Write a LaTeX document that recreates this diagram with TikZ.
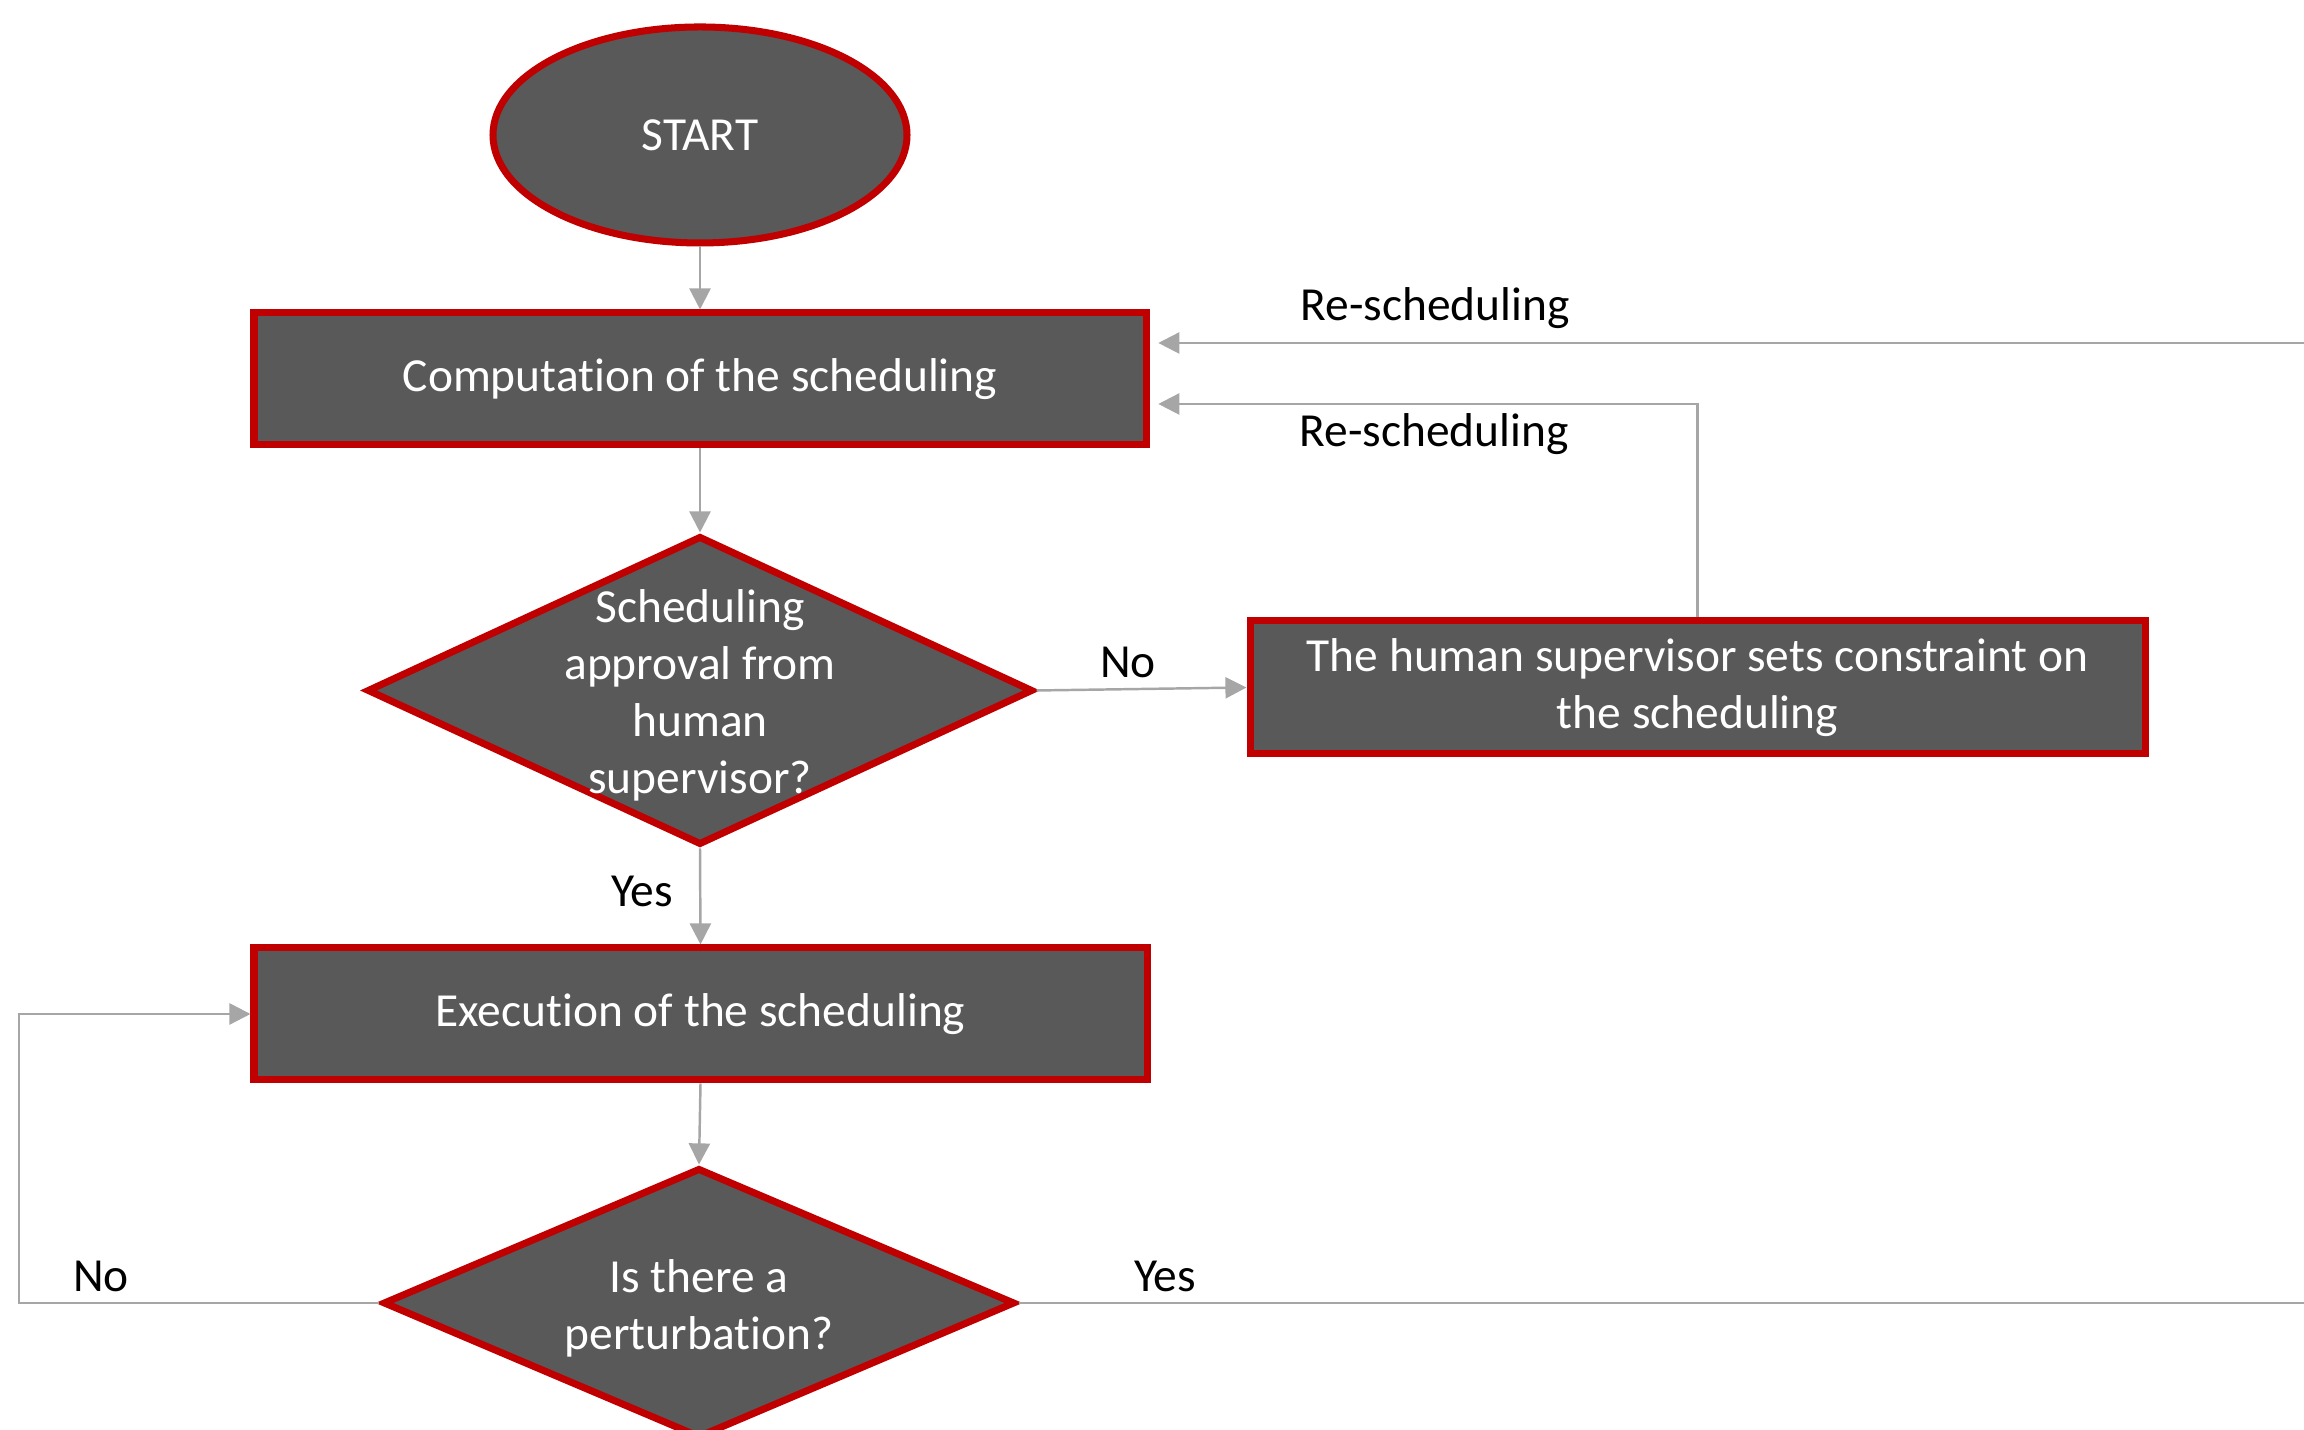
\documentclass[tikz,border=0pt]{standalone}
\usepackage{fontspec}
\setmainfont{Carlito}[Ligatures={NoCommon}]
\usetikzlibrary{shapes.geometric, arrows.meta}

\definecolor{boxgrey}{HTML}{595959}
\definecolor{boxred}{HTML}{C00000}
\definecolor{linegrey}{HTML}{A6A6A6}

\tikzset{
	stepbox/.style={rectangle, draw=boxred, fill=boxgrey, line width=2pt, text=white, align=center, inner sep=0pt},
	startbox/.style={ellipse, draw=boxred, fill=boxgrey, line width=2pt, text=white, inner sep=0pt, minimum width=4.14cm, minimum height=2.16cm},
	choicebox/.style={diamond, draw=boxred, fill=boxgrey, line width=2pt, inner sep=0pt},
	flow/.style={draw=linegrey, line width=0.7pt, -{Triangle[length=6pt, width=6pt]}},
	plain/.style={draw=linegrey, line width=0.7pt},
	tag/.style={text=black, inner sep=0pt}
}

\begin{document}
\begin{tikzpicture}[font=\fontsize{13.5}{16.2}\selectfont]
			\useasboundingbox (0,0) rectangle (23.04,14.30);
			\clip (0,0) rectangle (23.04,14.30);

			% Blocchi
			\node[startbox] (start) at (7.00, 12.95) {START};
			\node[stepbox, minimum width=8.92cm, minimum height=1.32cm] (comp) at (7.00, 10.51) {Computation of the scheduling};
			\node[choicebox, minimum width=6.66cm, minimum height=3.09cm, label={[text=white, align=center, yshift=-1.5pt]center:Scheduling\\approval from\\human\\supervisor?}] (approval) at (7.00, 7.395) {};
			\node[stepbox, minimum width=8.95cm, minimum height=1.33cm] (constraint) at (16.975, 7.425) {The human supervisor sets constraint on\\the scheduling};
			\node[stepbox, minimum width=8.93cm, minimum height=1.32cm] (exec) at (7.005, 4.16) {Execution of the scheduling};
			\node[choicebox, minimum width=6.32cm, minimum height=2.70cm, label={[text=white, align=center, yshift=-1.5pt]center:Is there a\\perturbation?}] (perturb) at (6.99, 1.27) {};

			% Estremi liberi
			\coordinate (topright) at (23.04, 10.87);
			\coordinate (botright) at (23.04, 1.27);
			\coordinate (leftside) at (0.19, 0);

			% Archi
			\draw[flow] (start) -- (comp);
			\draw[flow] (comp) -- (approval);
			\draw[flow] (approval.east) -- (constraint.west);
			\draw[flow, shorten >=2.5pt] (constraint.north) |- ([yshift=-0.25cm]comp.east);
			\draw[flow, shorten >=2.5pt] (topright) -- (topright -| comp.east);
			\draw[flow] (approval.south) -- (exec.north);
			\draw[flow] (exec.south) -- (perturb.north);
			\draw[flow] (perturb.west) -- (perturb.west -| leftside) |- (exec.west);
			\draw[plain] (perturb.east) -- (botright);

			% Etichette
			\node[tag] (lno1) at (11.28, 7.68) {No};
			\node[tag] (lres1) at (14.35, 11.22) {Re-scheduling};
			\node[tag] (lres2) at (14.34, 9.96) {Re-scheduling};
			\node[tag] (lyes1) at (6.42, 5.39) {Yes};
			\node[tag] (lno2) at (1.01, 1.54) {No};
			\node[tag] (lyes2) at (11.65, 1.54) {Yes};
		\end{tikzpicture}
\end{document}
